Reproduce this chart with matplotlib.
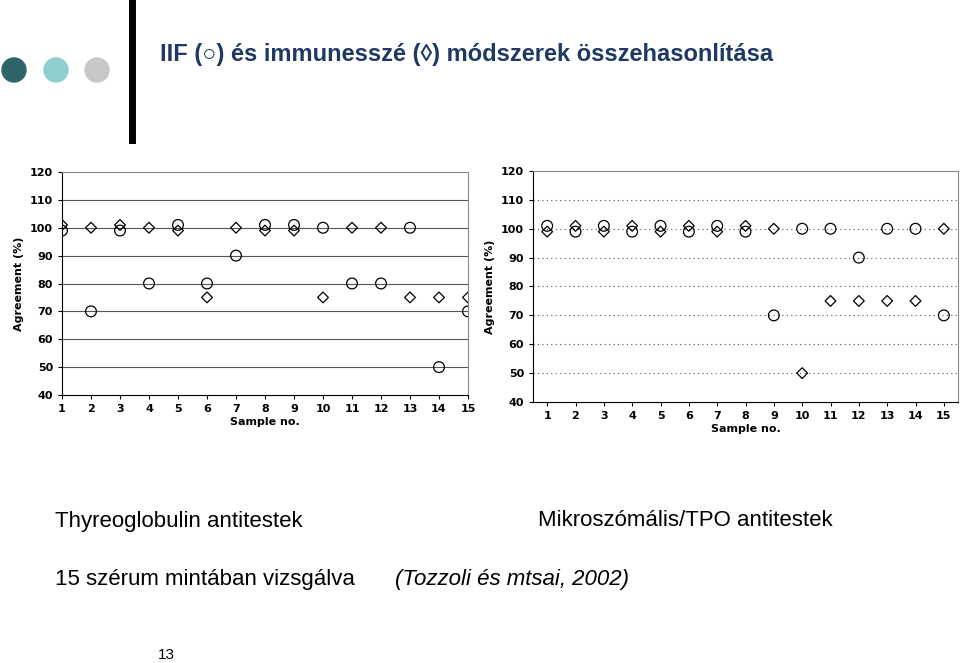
import matplotlib
matplotlib.use("Agg")
import matplotlib.pyplot as plt
from matplotlib.patches import Circle

samples = list(range(1, 16))
left_iif = [99, 70, 99, 80, 101, 80, 90, 101, 101, 100, 80, 80, 100, 50, 70]
left_ia = [101, 100, 101, 100, 99, 75, 100, 99, 99, 75, 100, 100, 75, 75, 75]
right_iif = [101, 99, 101, 99, 101, 99, 101, 99, 70, 100, 100, 90, 100, 100, 70]
right_ia = [99, 101, 99, 101, 99, 101, 99, 101, 100, 50, 75, 75, 75, 75, 100]
yticks = list(range(40, 121, 10))

W, H = 960, 663
fig = plt.figure(figsize=(W/100, H/100), dpi=100)

def ax_px(x0, y0, x1, y1):
    return fig.add_axes([x0/W, 1-y1/H, (x1-x0)/W, (y1-y0)/H])

deco = fig.add_axes([0, 0, 1, 1]); deco.set_xlim(0, W); deco.set_ylim(H, 0); deco.axis('off')
for cx, c in [(14, '#2f6468'), (56, '#8fcfcf'), (97, '#c8c8c8')]:
    deco.add_patch(Circle((cx, 70), 12, color=c))
deco.plot([132, 132], [2, 140], color='black', lw=5)

fig.text(160/W, 1-55/H, "IIF (○) és immunesszé (◊) módszerek összehasonlítása",
         fontsize=17, fontweight='bold', color='#1f3864', va='center',
         family=['Liberation Sans', 'DejaVu Sans'])

def draw(ax, iif, ia, xlim, grid_style):
    ax.set_xlim(*xlim); ax.set_ylim(40, 120)
    ax.set_yticks(yticks); ax.set_xticks(samples)
    for y in yticks[1:-1]:
        ax.axhline(y, color='#555555', lw=0.8, ls=grid_style, zorder=0)
    ax.scatter(samples, iif, marker='o', s=60, facecolors='none', edgecolors='black', lw=0.9, zorder=3)
    ax.scatter(samples, ia, marker='D', s=30, facecolors='none', edgecolors='black', lw=0.9, zorder=3)
    ax.tick_params(labelsize=8, length=3)
    for t in ax.get_xticklabels() + ax.get_yticklabels():
        t.set_fontweight('bold')
    ax.set_xlabel("Sample no.", fontsize=8, fontweight='bold', labelpad=2)
    ax.set_ylabel("Agreement (%)", fontsize=8, fontweight='bold', labelpad=4)
    for s in ['top', 'right']:
        ax.spines[s].set_color('#888888')

ax1 = ax_px(62, 172, 468, 395)
draw(ax1, left_iif, left_ia, (1, 15), '-')
ax2 = ax_px(533, 171, 958, 402)
draw(ax2, right_iif, right_ia, (0.5, 15.5), (0, (1, 3)))

fam = ['Liberation Sans', 'DejaVu Sans']
fig.text(55/W, 1-521/H, "Thyreoglobulin antitestek", fontsize=16, va='center', family=fam)
fig.text(538/W, 1-521/H, "Mikroszómális/TPO antitestek", fontsize=16, va='center', family=fam)
fig.text(55/W, 1-579/H, "15 szérum mintában vizsgálva", fontsize=16, va='center', family=fam)
fig.text(395/W, 1-579/H, "(Tozzoli és mtsai, 2002)", fontsize=16, va='center', style='italic', family=fam)
fig.text(158/W, 1-655/H, "13", fontsize=11, va='center', family=fam)

fig.savefig("out.png", dpi=100)
